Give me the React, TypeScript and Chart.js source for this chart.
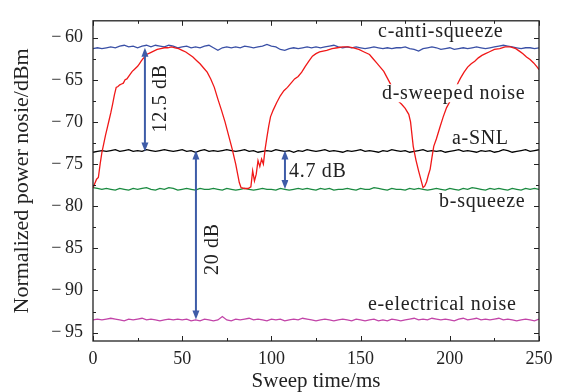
import React, { useEffect, useRef } from 'react';
import { Chart, registerables } from 'chart.js';

Chart.register(...registerables);

// ---- data ----
const noiseTimes = [
  0, 2.5, 5, 7.5, 10, 12.5, 15, 17.5, 20, 22.5,
  25, 27.5, 30, 32.5, 35, 37.5, 40, 42.5, 45, 47.5,
  50, 52.5, 55, 57.5, 60, 62.5, 65, 67.5, 70, 72.5,
  75, 77.5, 80, 82.5, 85, 87.5, 90, 92.5, 95, 97.5,
  100, 102.5, 105, 107.5, 110, 112.5, 115, 117.5, 120, 122.5,
  125, 127.5, 130, 132.5, 135, 137.5, 140, 142.5, 145, 147.5,
  150, 152.5, 155, 157.5, 160, 162.5, 165, 167.5, 170, 172.5,
  175, 177.5, 180, 182.5, 185, 187.5, 190, 192.5, 195, 197.5,
  200, 202.5, 205, 207.5, 210, 212.5, 215, 217.5, 220, 222.5,
  225, 227.5, 230, 232.5, 235, 237.5, 240, 242.5, 245, 247.5,
  250,
];

const antiSqueezeC = [
  -61.3, -61.2, -61.3, -61.2, -61.1, -61.2, -61.0, -60.9, -61.1, -61.0,
  -61.2, -61.0, -60.9, -61.1, -60.9, -61.0, -61.1, -60.9, -61.0, -61.2,
  -61.1, -61.0, -61.2, -61.1, -61.2, -61.0, -60.9, -61.2, -61.5, -61.2,
  -61.1, -61.2, -61.1, -61.2, -61.0, -61.1, -61.2, -61.1, -61.0, -60.8,
  -61.0, -61.1, -61.4, -61.5, -61.3, -61.2, -61.3, -61.2, -61.1, -61.2,
  -61.1, -61.2, -61.1, -61.0, -60.9, -61.1, -61.2, -61.1, -61.2, -61.1,
  -61.2, -61.3, -61.2, -61.1, -61.2, -61.3, -61.2, -61.3, -61.2, -61.2,
  -61.1, -61.3, -61.4, -61.6, -61.3, -61.2, -61.1, -61.2, -61.4, -61.3,
  -61.2, -61.4, -61.3, -61.2, -61.3, -61.2, -61.1, -61.2, -61.3, -61.2,
  -61.1, -61.0, -60.9, -61.0, -61.1, -61.2, -61.3, -61.2, -61.2, -61.3,
  -61.2,
];

const snlA = [
  -73.6, -73.5, -73.4, -73.5, -73.4, -73.3, -73.5, -73.4, -73.3, -73.5,
  -73.4, -73.5, -73.3, -73.4, -73.5, -73.4, -73.3, -73.4, -73.5, -73.4,
  -73.3, -73.5, -73.4, -73.6, -73.4, -73.3, -73.5, -73.4, -73.5, -73.4,
  -73.3, -73.4, -73.5, -73.4, -73.3, -73.5, -73.4, -73.6, -73.5, -73.4,
  -73.5, -73.3, -73.4, -73.5, -73.4, -73.6, -73.4, -73.5, -73.3, -73.4,
  -73.5, -73.4, -73.3, -73.5, -73.4, -73.5, -73.6, -73.4, -73.5, -73.4,
  -73.3, -73.5, -73.4, -73.5, -73.6, -73.4, -73.5, -73.3, -73.4, -73.5,
  -73.4, -73.6, -73.5, -73.4, -73.3, -73.5, -73.4, -73.5, -73.4, -73.6,
  -73.5, -73.4, -73.3, -73.5, -73.4, -73.5, -73.6, -73.4, -73.5, -73.4,
  -73.6, -73.5, -73.3, -73.4, -73.6, -73.5, -73.4, -73.3, -73.5, -73.4,
  -73.3,
];

const squeezeB = [
  -77.8, -77.9, -78.0, -77.9, -78.0, -78.1, -77.9, -78.0, -78.1, -77.9,
  -78.0, -77.9, -77.8, -78.0, -78.1, -77.9, -78.0, -77.8, -77.9, -78.1,
  -78.0, -77.9, -78.0, -78.1, -77.9, -78.0, -78.0, -77.9, -78.0, -78.1,
  -77.9, -78.0, -78.1, -78.0, -77.9, -78.0, -78.1, -78.0, -77.9, -78.0,
  -78.0, -78.1, -77.9, -78.0, -78.1, -78.0, -77.9, -78.0, -77.9, -78.0,
  -78.1, -77.9, -78.0, -77.9, -78.1, -78.0, -78.0, -77.9, -78.0, -78.1,
  -77.9, -78.0, -78.0, -77.8, -77.9, -78.0, -78.1, -77.9, -78.0, -78.0,
  -78.1, -77.9, -78.0, -77.9, -78.0, -78.1, -78.0, -77.9, -78.0, -78.1,
  -77.9, -78.0, -78.1, -77.9, -78.0, -77.8, -77.9, -78.0, -78.1, -77.9,
  -78.0, -77.9, -78.0, -78.1, -77.9, -78.0, -78.1, -77.9, -78.0, -77.9,
  -78.0,
];

const electricalE = [
  -93.5, -93.4, -93.5, -93.4, -93.3, -93.4, -93.5, -93.6, -93.4, -93.5,
  -93.4, -93.3, -93.5, -93.4, -93.5, -93.6, -93.5, -93.4, -93.5, -93.4,
  -93.5, -93.4, -93.6, -93.5, -93.6, -93.4, -93.5, -93.6, -93.5, -93.1,
  -93.5, -93.6, -93.4, -93.5, -93.4, -93.3, -93.5, -93.4, -93.5, -93.6,
  -93.4, -93.5, -93.4, -93.6, -93.5, -93.4, -93.5, -93.3, -93.4, -93.5,
  -93.6, -93.5, -93.4, -93.5, -93.6, -93.5, -93.4, -93.5, -93.6, -93.4,
  -93.5, -93.6, -93.5, -93.4, -93.6, -93.5, -93.6, -93.4, -93.5, -93.6,
  -93.5, -93.4, -93.3, -93.5, -93.4, -93.5, -93.3, -93.4, -93.5, -93.4,
  -93.5, -93.6, -93.4, -93.3, -93.5, -93.4, -93.3, -93.5, -93.4, -93.5,
  -93.4, -93.3, -93.5, -93.4, -93.5, -93.6, -93.5, -93.4, -93.5, -93.6,
  -93.4,
];

const sweptTimes = [
  0, 1, 2, 3, 4, 5, 6, 7, 8, 9, 10, 11, 12, 13, 14, 15, 16, 17, 18, 19,
  20, 21, 22, 23, 24, 25, 26, 27, 28, 29, 30, 32, 34, 36, 38, 40, 42, 44, 46, 48,
  50, 52, 54, 56, 58, 60, 62, 64, 66, 68, 70, 72, 74, 76, 78, 80, 82, 83, 85, 87,
  88.5, 89.5, 90.5, 91.5, 92.5, 93.5, 94.5, 95.5, 96.5, 97.5, 98.5, 99.5, 101, 103, 105, 107, 109, 111, 113, 115,
  117, 119, 121, 123, 125, 127, 129, 131, 134, 137, 140, 143, 146, 149, 152, 155, 157, 159, 161, 163,
  165, 167, 169, 171, 173, 175, 177, 178, 179.5, 181, 182.5, 184, 185, 186, 187, 188, 189, 190, 191, 192.5,
  194.5, 196.3, 198.2, 200, 202, 204.8, 206, 208, 210, 212, 214, 216, 218, 220, 222, 225, 228, 231, 234, 237,
  239, 241, 243, 245, 247, 249, 250,
];

const sweptD = [
  -77.8, -77.3, -76.8, -76.6, -75.0, -73.6, -72.6, -71.6, -70.7, -69.8, -68.9, -67.9, -66.8, -65.9, -65.8, -65.6, -65.5, -65.4, -65.0, -64.9,
  -64.6, -64.3, -64.0, -63.8, -63.6, -63.4, -63.1, -62.8, -62.5, -62.3, -62.0, -61.8, -61.6, -61.4, -61.3, -61.2, -61.2, -61.1, -61.2, -61.3,
  -61.5, -61.7, -62.0, -62.3, -62.7, -63.1, -63.6, -64.1, -64.9, -65.9, -67.3, -68.6, -70.0, -71.6, -73.2, -75.0, -77.2, -77.8, -77.9, -77.9,
  -77.7, -75.8, -77.0, -76.2, -74.6, -75.3, -74.4, -75.0, -73.2, -71.8, -70.5, -69.4, -68.6, -67.7, -66.9, -66.3, -65.9, -65.4, -64.9, -64.6,
  -64.1, -63.4, -62.8, -62.2, -61.9, -61.7, -61.6, -61.5, -61.3, -61.2, -61.1, -61.1, -61.2, -61.4, -61.7, -62.0, -62.5, -63.0, -63.5, -64.0,
  -64.8, -65.6, -66.6, -67.5, -67.9, -68.4, -69.1, -70.0, -72.9, -74.5, -75.8, -77.0, -77.8, -77.6, -77.1, -76.3, -75.6, -74.2, -72.9, -72.0,
  -70.6, -69.4, -68.3, -67.6, -66.6, -65.3, -64.8, -64.1, -63.5, -63.1, -62.8, -62.4, -62.1, -61.9, -61.7, -61.4, -61.3, -61.1, -61.1, -61.3,
  -61.6, -61.9, -62.3, -62.6, -63.0, -63.5, -63.8,
];

const xMajorTicks = [0, 50, 100, 150, 200, 250];
const xMinorTicks = [25, 75, 125, 175, 225];
const yMajorTicks = [-95, -90, -85, -80, -75, -70, -65, -60];
const yMinorTicks = [-92.5, -87.5, -82.5, -77.5, -72.5, -67.5, -62.5];

// double-headed arrows: time, from value, to value
const arrowTimes = [29.1, 57.7, 107.6];
const arrowFrom = [-61.2, -73.4, -73.4];
const arrowTo = [-73.5, -93.45, -77.95];

// text annotations
const labelTexts = ['c-anti-squeeze', 'd-sweeped noise', 'a-SNL', 'b-squeeze', 'e-electrical noise', '12.5 dB', '20 dB', '4.7 dB'];
const labelTimes = [159.8, 162, 201.2, 194, 154.1, 38.1, 67.3, 109.9];
const labelValues = [-59.33, -66.6, -71.95, -79.5, -91.7, -67.2, -85.1, -75.9];
const labelRotated = [false, false, false, false, false, true, true, false];

const FONT = '"Liberation Serif", "Times New Roman", serif';
const ARROW_COLOR = '#3e5ca8';
const TEXT_COLOR = '#222222';

const toXY = (xs: number[], ys: number[]) => xs.map((x, i) => ({ x, y: ys[i] }));

const framePlugin = {
  id: 'frameTicks',
  afterDatasetsDraw(chart: any) {
    const { ctx, chartArea } = chart;
    const xs = chart.scales.x;
    const ys = chart.scales.y;
    const { left, right, top, bottom } = chartArea;
    ctx.save();

    // arrows
    ctx.strokeStyle = ARROW_COLOR;
    ctx.fillStyle = ARROW_COLOR;
    ctx.lineWidth = 2;
    arrowTimes.forEach((t, i) => {
      const px = xs.getPixelForValue(t);
      const y1 = ys.getPixelForValue(arrowFrom[i]);
      const y2 = ys.getPixelForValue(arrowTo[i]);
      const hl = 9;
      const hw = 3.5;
      ctx.beginPath();
      ctx.moveTo(px, y1 + hl - 1);
      ctx.lineTo(px, y2 - hl + 1);
      ctx.stroke();
      ctx.beginPath();
      ctx.moveTo(px, y1);
      ctx.lineTo(px - hw, y1 + hl);
      ctx.lineTo(px + hw, y1 + hl);
      ctx.closePath();
      ctx.fill();
      ctx.beginPath();
      ctx.moveTo(px, y2);
      ctx.lineTo(px - hw, y2 - hl);
      ctx.lineTo(px + hw, y2 - hl);
      ctx.closePath();
      ctx.fill();
    });

    // labels
    ctx.font = '20px ' + FONT;
    ctx.textBaseline = 'middle';
    try { (ctx as any).letterSpacing = '0.7px'; } catch (e) { /* ignore */ }
    labelTexts.forEach((txt, i) => {
      const px = xs.getPixelForValue(labelTimes[i]);
      const py = ys.getPixelForValue(labelValues[i]);
      if (labelRotated[i]) {
        ctx.save();
        ctx.translate(px, py);
        ctx.rotate(-Math.PI / 2);
        ctx.textAlign = 'center';
        ctx.fillStyle = TEXT_COLOR;
        ctx.fillText(txt, 0, 0);
        ctx.restore();
      } else {
        const w = ctx.measureText(txt).width;
        ctx.fillStyle = '#ffffff';
        ctx.fillRect(px - 1, py - 9, w + 2, 18);
        ctx.textAlign = 'left';
        ctx.fillStyle = TEXT_COLOR;
        ctx.fillText(txt, px, py);
      }
    });
    try { (ctx as any).letterSpacing = '0px'; } catch (e) { /* ignore */ }

    // frame
    ctx.strokeStyle = '#222222';
    ctx.lineWidth = 1.3;
    ctx.strokeRect(left, top, right - left, bottom - top);

    // inward ticks on all four sides
    ctx.lineWidth = 1;
    const drawX = (vals: number[], len: number) => {
      vals.forEach((v) => {
        const p = Math.round(xs.getPixelForValue(v)) + 0.5;
        ctx.beginPath();
        ctx.moveTo(p, bottom);
        ctx.lineTo(p, bottom - len);
        ctx.moveTo(p, top);
        ctx.lineTo(p, top + len);
        ctx.stroke();
      });
    };
    const drawY = (vals: number[], len: number) => {
      vals.forEach((v) => {
        const p = Math.round(ys.getPixelForValue(v)) + 0.5;
        ctx.beginPath();
        ctx.moveTo(left, p);
        ctx.lineTo(left + len, p);
        ctx.moveTo(right, p);
        ctx.lineTo(right - len, p);
        ctx.stroke();
      });
    };
    drawX(xMajorTicks, 5);
    drawX(xMinorTicks, 3);
    drawY(yMajorTicks, 5);
    drawY(yMinorTicks, 3);
    ctx.restore();
  },
};

export default function App() {
  const canvasRef = useRef<HTMLCanvasElement | null>(null);

  useEffect(() => {
    if (!canvasRef.current) return;
    const lineDs = (label: string, data: any[], color: string) => ({
      label,
      data,
      borderColor: color,
      backgroundColor: color,
      borderWidth: 1.3,
      pointRadius: 0,
      tension: 0,
      fill: false,
    });
    const chart = new Chart(canvasRef.current, {
      type: 'line',
      data: {
        datasets: [
          lineDs('d-sweeped noise', toXY(sweptTimes, sweptD), '#f01818'),
          lineDs('a-SNL', toXY(noiseTimes, snlA), '#000000'),
          lineDs('c-anti-squeeze', toXY(noiseTimes, antiSqueezeC), '#3a50a6'),
          lineDs('b-squeeze', toXY(noiseTimes, squeezeB), '#1a8a40'),
          lineDs('e-electrical noise', toXY(noiseTimes, electricalE), '#c244a8'),
        ],
      },
      options: {
        animation: false,
        responsive: true,
        maintainAspectRatio: false,
        layout: { padding: { top: 10, right: 30, left: 0, bottom: 0 } },
        plugins: { legend: { display: false }, tooltip: { enabled: false } },
        scales: {
          x: {
            type: 'linear',
            min: 0,
            max: 250,
            afterFit: (s: any) => { s.height = 51; },
            afterBuildTicks: (s: any) => { s.ticks = xMajorTicks.map((v) => ({ value: v })); },
            grid: { display: false, drawTicks: false },
            border: { display: false },
            ticks: {
              padding: 7,
              maxRotation: 0,
              autoSkip: false,
              color: TEXT_COLOR,
              font: { family: FONT, size: 18 },
            },
            title: {
              display: true,
              text: 'Sweep time/ms',
              color: TEXT_COLOR,
              font: { family: FONT, size: 21, lineHeight: 1 },
              padding: { top: 0, bottom: 0 },
            },
          },
          y: {
            type: 'linear',
            min: -96,
            max: -58,
            afterFit: (s: any) => { s.width = 93; },
            afterBuildTicks: (s: any) => { s.ticks = yMajorTicks.map((v) => ({ value: v })); },
            grid: { display: false, drawTicks: false },
            border: { display: false },
            ticks: {
              padding: 10,
              color: TEXT_COLOR,
              font: { family: FONT, size: 18 },
              callback: (v: any) => (Number(v) < 0 ? '\u2212\u2009' : '') + Math.abs(Number(v)),
            },
            title: {
              display: true,
              text: 'Normalized power nosie/dBm',
              color: TEXT_COLOR,
              font: { family: FONT, size: 22, lineHeight: 1 },
              padding: { top: 11, bottom: 0 },
            },
          },
        },
      },
      plugins: [framePlugin],
    });
    return () => chart.destroy();
  }, []);

  return (
    <div style={{ position: 'fixed', left: 0, top: 0, width: 569, height: 392, background: '#ffffff' }}>
      <canvas ref={canvasRef} />
    </div>
  );
}
